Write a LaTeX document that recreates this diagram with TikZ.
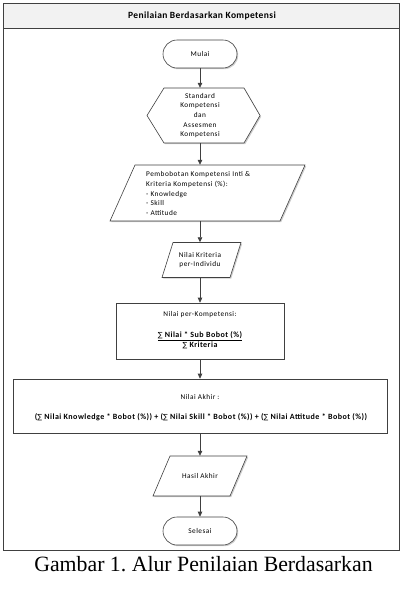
\documentclass[tikz,border=0pt]{standalone}
\usepackage{fontspec}
\setmainfont{Liberation Serif}
\newfontfamily\calfont{Carlito}[LetterSpace=6.5]
\newfontfamily\calbfont{Carlito}[LetterSpace=6, UprightFont=* Bold]
\newfontfamily\titfont{Carlito}[LetterSpace=4, UprightFont=* Bold]
\newfontfamily\symfont{DejaVu Sans}
\usetikzlibrary{arrows.meta,shadows}
\definecolor{linec}{HTML}{404040}
\definecolor{headfill}{HTML}{F2F2F2}
\newcommand{\sm}{{\symfont\fontsize{7}{7}\selectfont ∑}}
\tikzset{
  shp/.style={draw=linec, line width=0.6pt, fill=white,
    drop shadow={shadow xshift=1.2pt, shadow yshift=-1.2pt, fill=black!40, opacity=0.5}},
  txt/.style={font=\calfont\fontsize{7.3}{9.6}\selectfont, align=center, inner sep=0pt},
  btxt/.style={font=\calbfont\fontsize{8}{10}\selectfont, align=center, inner sep=0pt},
  conn/.style={draw=linec, line width=0.7pt, -{Triangle[length=5pt,width=4.5pt]}},
  term/.style={shp, rounded corners=14pt, minimum width=74pt, minimum height=28pt},
  ghost/.style={draw=none, rectangle, inner sep=0pt}
}
\begin{document}
\begin{tikzpicture}[x=1pt,y=-1pt]
\useasboundingbox (0,0) rectangle (402,590);
% frame and header
\draw[draw=linec, line width=0.8pt, fill=headfill] (3,3) rectangle (399,28);
\draw[draw=linec, line width=0.8pt] (3,3) rectangle (399,550);
\node[font=\titfont\fontsize{9.5}{11}\selectfont, inner sep=0pt] (title) at (202,15.5) {Penilaian Berdasarkan Kompetensi};

% Mulai
\node[term, txt] (mulai) at (200,54) {Mulai};

% hexagon
\draw[shp] (147,115.5) -- (164,88) -- (244,88) -- (260,115.5) -- (244,143) -- (164,143) -- cycle;
\node[ghost, txt, minimum width=80pt, minimum height=55pt] (std) at (200,115.5)
  {Standard\\Kompetensi\\dan\\Assesmen\\Kompetensi};

% parallelogram 1
\draw[shp] (135,165) -- (305,165) -- (280,221) -- (110,221) -- cycle;
\node[ghost, minimum width=100pt, minimum height=56pt] (bobot) at (200,193) {};
\node[txt, align=left, anchor=west] (bobott) at (146,193.5)
  {Pembobotan Kompetensi Inti \&\\Kriteria Kompetensi (\%):\\- Knowledge\\- Skill\\- Attitude};

% parallelogram 2
\draw[shp] (173,242.5) -- (241,242.5) -- (230,277.5) -- (162,277.5) -- cycle;
\node[ghost, txt, minimum width=50pt, minimum height=35pt] (nk) at (200,260) {Nilai Kriteria\\per-Individu};

% rectangle 1
\node[shp, ghost, draw=linec, minimum width=168pt, minimum height=56pt] (npk) at (200,331) {};
\node[txt] (npkt) at (200,315) {Nilai per-Kompetensi:};
\node[btxt] (npkf) at (200,340.5) {\underline{\sm\ Nilai * Sub Bobot (\%)}\\\sm\ Kriteria};

% rectangle 2
\node[shp, ghost, draw=linec, minimum width=374pt, minimum height=54pt] (na) at (200,406) {};
\node[txt] (nat) at (200,397) {Nilai Akhir :};
\node[btxt] (naf) at (201,417.5) {(\sm\ Nilai Knowledge * Bobot (\%)) + (\sm\ Nilai Skill * Bobot (\%)) + (\sm\ Nilai Attitude * Bobot (\%))};

% parallelogram 3
\draw[shp] (170,456) -- (247,456) -- (230,496) -- (153,496) -- cycle;
\node[ghost, txt, minimum width=60pt, minimum height=40pt] (hasil) at (200,476) {Hasil Akhir};

% Selesai
\node[term, txt] (selesai) at (200,531) {Selesai};

% connectors
\draw[conn] (mulai) -- (std);
\draw[conn] (std) -- (bobot);
\draw[conn] (bobot) -- (nk);
\draw[conn] (nk) -- (npk);
\draw[conn] (npk) -- (na);
\draw[conn] (na) -- (hasil);
\draw[conn] (hasil) -- (selesai);

% caption
\node[font=\fontsize{21.8}{25}\selectfont, inner sep=0pt] (cap) at (203.5,564) {\frenchspacing Gambar 1. Alur Penilaian Berdasarkan};
\end{tikzpicture}
\end{document}
